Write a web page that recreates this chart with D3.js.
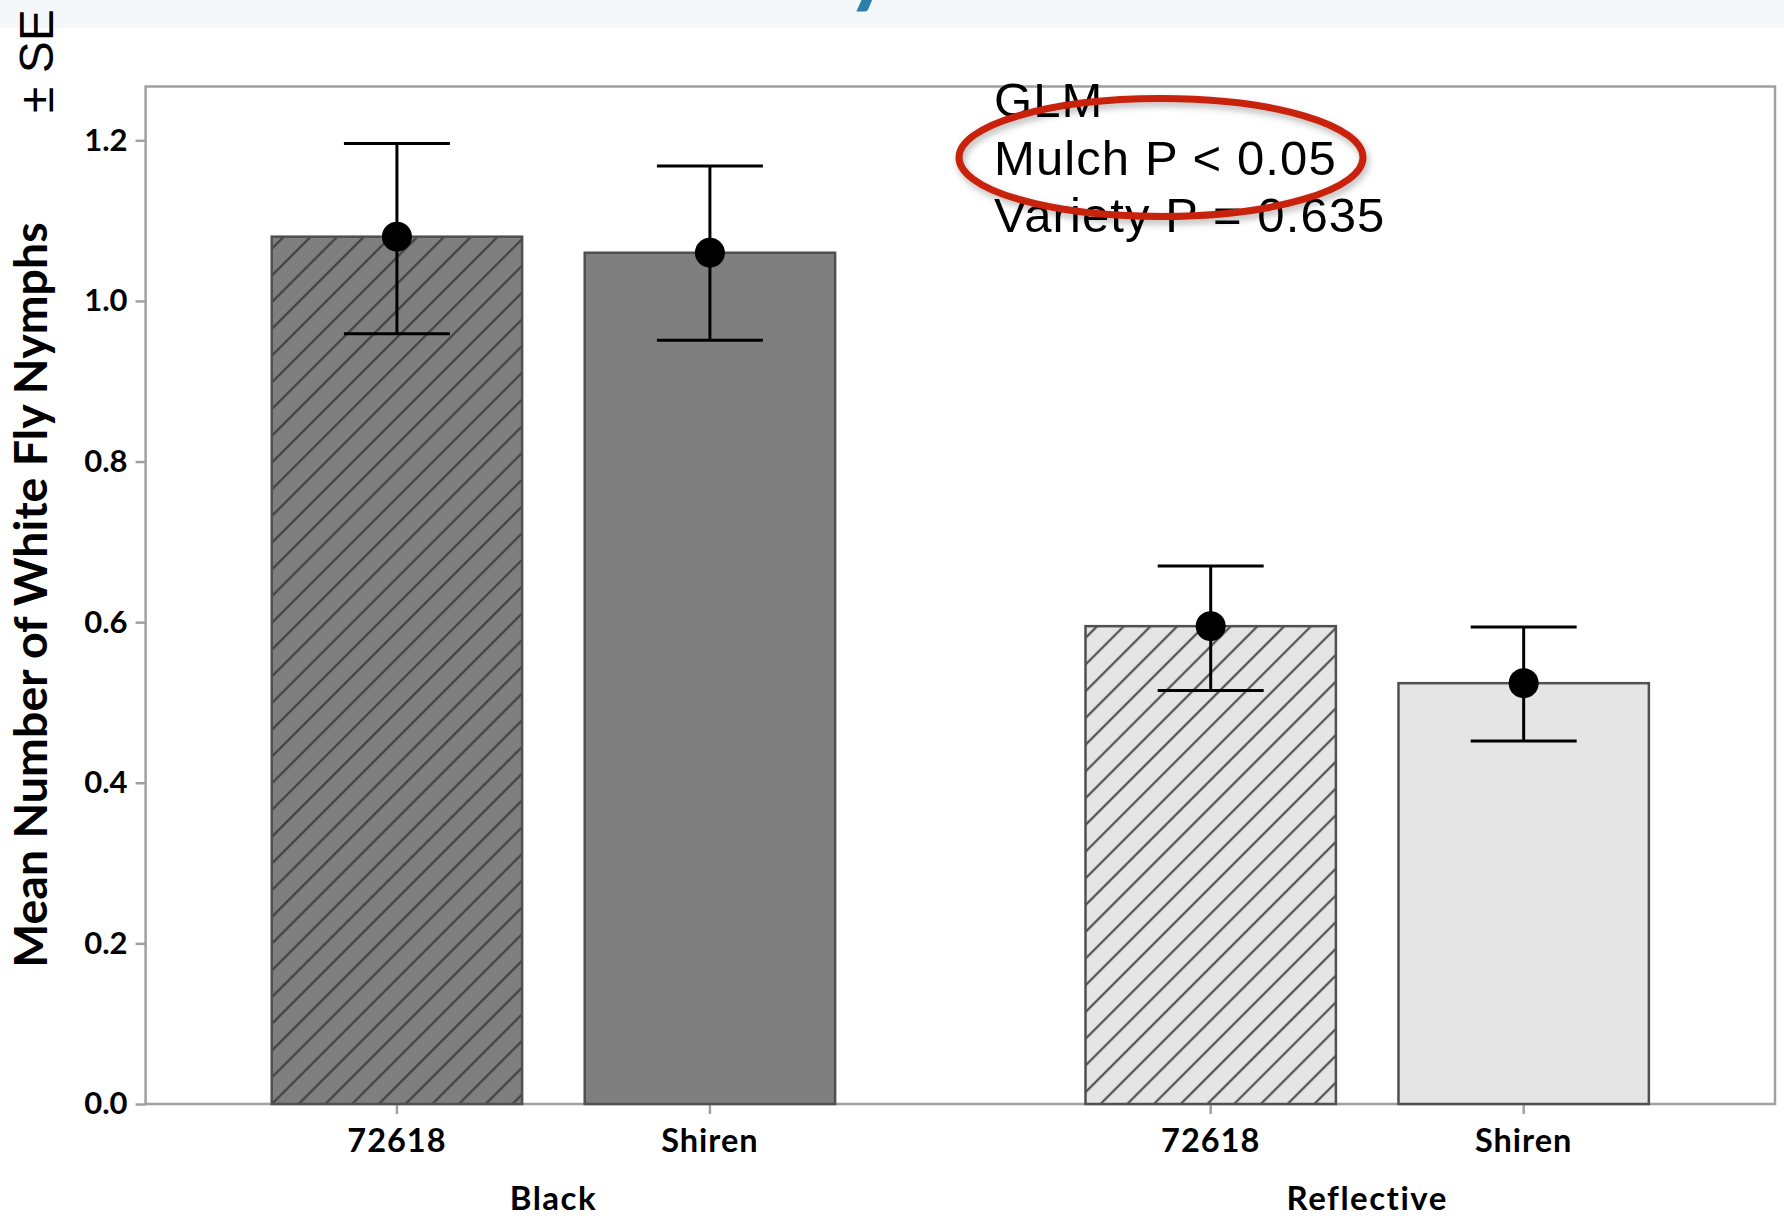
<!DOCTYPE html>
<html>
<head>
<meta charset="utf-8">
<script src="https://cdn.jsdelivr.net/npm/d3@7"></script>
<style>
  body { margin: 0; background: #ffffff; }
  svg { display: block; }
</style>
</head>
<body>
<svg id="chart" width="1784" height="1216"></svg>
<script>
// Mean whitefly nymph counts by mulch type and variety, with ±SE bounds
const mulches = ["Black", "Reflective"];
const varieties = ["72618", "Shiren"];
const meanNymphs = [[1.08, 1.06], [0.595, 0.524]];
const seLower = [[0.959, 0.951], [0.515, 0.452]];
const seUpper = [[1.196, 1.168], [0.670, 0.594]];
const yTicks = [0, 0.2, 0.4, 0.6, 0.8, 1.0, 1.2];
const yMax = 1.267;
const statLines = ["GLM", "Mulch P < 0.05", "Variety P = 0.635"];

const rows = [];
mulches.forEach((m, i) => varieties.forEach((v, j) => rows.push({
  mulch: m, variety: v, mean: meanNymphs[i][j], lo: seLower[i][j], hi: seUpper[i][j]
})));

const W = 1784, H = 1216;
const plot = { left: 145.6, right: 1775, top: 86.5, bottom: 1104 };

const svg = d3.select("#chart");
const defs = svg.append("defs");

// diagonal hatching for the 72618 bars
function hatch(id, bg, ink) {
  const p = defs.append("pattern")
    .attr("id", id)
    .attr("patternUnits", "userSpaceOnUse")
    .attr("width", 18.9).attr("height", 18.9)
    .attr("patternTransform", "rotate(45)");
  p.append("rect").attr("width", 18.9).attr("height", 18.9).attr("fill", bg);
  p.append("line").attr("x1", 9).attr("y1", -2).attr("x2", 9).attr("y2", 21)
    .attr("stroke", ink).attr("stroke-width", 2.3);
}
hatch("hatchDark", "#7f7f7f", "#434343");
hatch("hatchLight", "#e5e5e5", "#555555");

const shadow = defs.append("filter").attr("id", "soft")
  .attr("x", "-20%").attr("y", "-40%").attr("width", "140%").attr("height", "180%");
shadow.append("feDropShadow").attr("dx", 2).attr("dy", 4)
  .attr("stdDeviation", 3.5).attr("flood-color", "#000").attr("flood-opacity", 0.28);

const fillFor = d => {
  const dark = d.mulch === "Black";
  if (d.variety === "72618") return dark ? "url(#hatchDark)" : "url(#hatchLight)";
  return dark ? "#7f7f7f" : "#e5e5e5";
};

// header strip with the tail of the slide title
svg.append("rect").attr("x", 0).attr("y", 0).attr("width", W).attr("height", 28)
  .attr("fill", "#f4f8fb");
svg.append("text").attr("x", 846).attr("y", -4)
  .attr("font-family", "Lato, sans-serif").attr("font-weight", 700)
  .attr("font-size", 90).attr("fill", "#2b7fa8").text("y");

// scales
const x0 = d3.scaleBand().domain(mulches)
  .range([plot.left, plot.right]).paddingInner(0.3077).paddingOuter(0.155);
const x1 = d3.scaleBand().domain(varieties)
  .range([0, x0.bandwidth()]).paddingInner(0.2).paddingOuter(0);
const y = d3.scaleLinear().domain([0, yMax]).range([plot.bottom, plot.top]);

// plot frame
svg.append("rect")
  .attr("x", plot.left).attr("y", plot.top)
  .attr("width", plot.right - plot.left).attr("height", plot.bottom - plot.top)
  .attr("fill", "#ffffff").attr("stroke", "#a0a0a0").attr("stroke-width", 2.5);

// y axis
const yAxis = svg.append("g")
  .attr("transform", `translate(${plot.left},0)`)
  .call(d3.axisLeft(y).tickValues(yTicks).tickFormat(d3.format(".1f"))
    .tickSize(10).tickPadding(8));
yAxis.select(".domain").remove();
yAxis.selectAll(".tick line").attr("stroke", "#a0a0a0").attr("stroke-width", 2.5);
yAxis.selectAll(".tick text")
  .attr("font-family", "Lato, sans-serif").attr("font-weight", 700)
  .attr("font-size", 31).attr("fill", "#000");

// x axis: variety labels under each bar, mulch labels under each group
const xg = svg.append("g");
rows.forEach(d => {
  const cx = x0(d.mulch) + x1(d.variety) + x1.bandwidth() / 2;
  xg.append("line").attr("x1", cx).attr("x2", cx)
    .attr("y1", plot.bottom).attr("y2", plot.bottom + 10)
    .attr("stroke", "#a0a0a0").attr("stroke-width", 2.5);
  xg.append("text").attr("x", cx).attr("y", plot.bottom + 48)
    .attr("text-anchor", "middle")
    .attr("font-family", "Lato, sans-serif").attr("font-weight", 700)
    .attr("font-size", 32.5).attr("letter-spacing", 1).attr("fill", "#000")
    .text(d.variety);
});
mulches.forEach(m => {
  xg.append("text").attr("x", x0(m) + x0.bandwidth() / 2).attr("y", plot.bottom + 106)
    .attr("text-anchor", "middle")
    .attr("font-family", "Lato, sans-serif").attr("font-weight", 700)
    .attr("font-size", 33).attr("letter-spacing", 1.5).attr("fill", "#000")
    .text(m);
});

// bars
svg.append("g").selectAll("rect").data(rows).join("rect")
  .attr("x", d => x0(d.mulch) + x1(d.variety))
  .attr("y", d => y(d.mean))
  .attr("width", x1.bandwidth())
  .attr("height", d => y(0) - y(d.mean))
  .attr("fill", fillFor)
  .attr("stroke", "#505050").attr("stroke-width", 2.5);

// error bars and mean markers
const capHalf = 53;
const eb = svg.append("g").selectAll("g").data(rows).join("g")
  .attr("transform", d => `translate(${x0(d.mulch) + x1(d.variety) + x1.bandwidth() / 2},0)`);
eb.append("line").attr("x1", 0).attr("x2", 0)
  .attr("y1", d => y(d.hi)).attr("y2", d => y(d.lo))
  .attr("stroke", "#000").attr("stroke-width", 3);
eb.append("line").attr("x1", -capHalf).attr("x2", capHalf)
  .attr("y1", d => y(d.hi)).attr("y2", d => y(d.hi))
  .attr("stroke", "#000").attr("stroke-width", 3);
eb.append("line").attr("x1", -capHalf).attr("x2", capHalf)
  .attr("y1", d => y(d.lo)).attr("y2", d => y(d.lo))
  .attr("stroke", "#000").attr("stroke-width", 3);
eb.append("circle").attr("cx", 0).attr("cy", d => y(d.mean)).attr("r", 15)
  .attr("fill", "#000");

// y axis title
svg.append("text")
  .attr("transform", `translate(47,595) rotate(-90)`)
  .attr("text-anchor", "middle")
  .attr("font-family", "Lato, sans-serif").attr("font-weight", 700)
  .attr("font-size", 46.5).attr("fill", "#000")
  .text("Mean Number of White Fly Nymphs");
svg.append("text")
  .attr("transform", `translate(53,113) rotate(-90)`)
  .attr("text-anchor", "start")
  .attr("font-family", "Liberation Sans, Arial, sans-serif")
  .attr("font-size", 48).attr("fill", "#000")
  .text("± SE");

// model summary with the mulch effect circled
const stats = svg.append("g");
statLines.forEach((t, i) => {
  stats.append("text").attr("x", 994).attr("y", 117 + i * 57.5)
    .attr("font-family", "Liberation Sans, Arial, sans-serif")
    .attr("font-size", 49).attr("letter-spacing", 1.1).attr("fill", "#000").text(t);
});
svg.append("ellipse")
  .attr("cx", 1161).attr("cy", 157.5).attr("rx", 202).attr("ry", 59)
  .attr("fill", "none").attr("stroke", "#c8200c").attr("stroke-width", 7)
  .attr("filter", "url(#soft)");
</script>
</body>
</html>
